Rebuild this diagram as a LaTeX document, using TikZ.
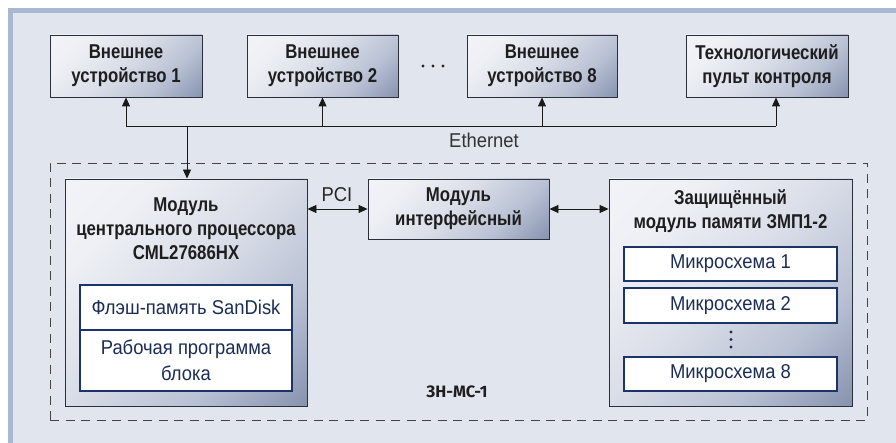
\documentclass[tikz,border=0pt]{standalone}
\usepackage{fontspec}
\setmainfont[FakeStretch=0.92]{Liberation Sans}
\newfontfamily\condbold[FakeStretch=0.84]{Liberation Sans}
\newfontfamily\labelfont{Fira Sans}
\usetikzlibrary{arrows.meta}
\definecolor{bgborder}{HTML}{A9B7D0}
\definecolor{bgfill}{HTML}{E1E5EE}
\definecolor{boxline}{HTML}{2B2F3A}
\definecolor{shadetop}{HTML}{F6F7FA}
\definecolor{shadehi}{HTML}{EEF0F5}
\definecolor{shadelite}{HTML}{DADEE8}
\definecolor{shademid}{HTML}{B8C0D3}
\definecolor{shadelow}{HTML}{8591AE}
\definecolor{shadebot}{HTML}{55648B}
\definecolor{navy}{HTML}{1B3366}
\definecolor{navytext}{HTML}{1B2D55}
\definecolor{darktext}{HTML}{1E1E1E}
\definecolor{dashcol}{HTML}{444444}
\pgfdeclareverticalshading{diagshade}{100bp}{color(0bp)=(shadebot); color(14bp)=(shadelow); color(32bp)=(shademid); color(52bp)=(shadelite); color(72bp)=(shadehi); color(100bp)=(shadetop)}
\tikzset{
  modbox/.style={draw=boxline, line width=0.9pt, shade, shading=diagshade, shading angle=45, inner sep=0pt},
  titletext/.style={align=center, text=darktext, font=\condbold\bfseries\fontsize{20}{24}\selectfont, inner sep=0pt},
  whitebox/.style={draw=navy, line width=1.2pt, fill=white, align=center, text=navytext, font=\fontsize{20}{26}\selectfont, inner sep=0pt},
  conn/.style={draw=black!90, line width=0.9pt},
  tip/.style={-{Triangle[length=9pt,width=8pt]}},
  dtip/.style={{Triangle[length=9pt,width=8pt]}-{Triangle[length=9pt,width=8pt]}},
  dashbox/.style={draw=dashcol, line width=0.9pt, dash pattern=on 9pt off 6.5pt, inner sep=0pt},
  dotmark/.style={fill=black!85, draw=none}
}
\begin{document}
\begin{tikzpicture}[x=1pt,y=-1pt]
\useasboundingbox (0,0) rectangle (896,443);
\fill[white] (0,0) rectangle (896,443);
\fill[bgborder] (8,8) rectangle (896,443);
\fill[bgfill] (13,13) rectangle (896,443);

% top row
\node[modbox, minimum width=152pt, minimum height=62pt] (d1) at (126,66) {};
\node[titletext] (d1t) at (d1.center) {Внешнее\\устройство 1};
\node[modbox, minimum width=151pt, minimum height=62pt] (d2) at (322.5,66) {};
\node[titletext] (d2t) at (d2.center) {Внешнее\\устройство 2};
\node[modbox, minimum width=150pt, minimum height=62pt] (d8) at (542,66) {};
\node[titletext] (d8t) at (d8.center) {Внешнее\\устройство 8};
\node[modbox, minimum width=162pt, minimum height=62pt] (tech) at (767,66) {};
\node[titletext] (techt) at (tech.center) {Технологический\\пульт контроля};
\fill[dotmark] (423,66) circle (1.7);
\fill[dotmark] (433,66) circle (1.7);
\fill[dotmark] (443,66) circle (1.7);

% system container
\node[dashbox, minimum width=817pt, minimum height=257pt] (sys) at (458.5,291.5) {};
\node[inner sep=0pt, text=darktext, font=\labelfont\bfseries\fontsize{16.5}{18}\selectfont] (syslabel) at (457,392) {ЗН-МС-1};

% CPU module
\node[modbox, minimum width=242pt, minimum height=227pt] (cpu) at (186,292.5) {};
\node[titletext] (cput) at (186,229) {Модуль\\центрального процессора\\CML27686HX};
\node[whitebox, minimum width=212pt, minimum height=45pt] (flash) at (186,307.5) {Флэш-память SanDisk};
\node[whitebox, minimum width=212pt, minimum height=61pt] (prog) at (186,360.5) {Рабочая программа\\блока};

% interface module
\node[modbox, minimum width=181pt, minimum height=60pt] (iface) at (458.5,209) {};
\node[titletext] (ifacet) at (iface.center) {Модуль\\интерфейсный};

% memory module
\node[modbox, minimum width=243pt, minimum height=227pt] (mem) at (730.5,292.5) {};
\node[titletext] (memt) at (730.5,211) {Защищённый\\модуль памяти ЗМП1-2};
\node[whitebox, minimum width=213pt, minimum height=34pt] (chip1) at (730.5,264) {Микросхема 1};
\node[whitebox, minimum width=213pt, minimum height=35pt] (chip2) at (730.5,305.5) {Микросхема 2};
\node[whitebox, minimum width=213pt, minimum height=34pt] (chip8) at (730.5,374) {Микросхема 8};
\fill[dotmark, fill=navytext] (731,332) circle (1.7);
\fill[dotmark, fill=navytext] (731,339.5) circle (1.7);
\fill[dotmark, fill=navytext] (731,347) circle (1.7);

% Ethernet bus
\coordinate (busL) at (126,126);
\coordinate (busR) at (776,126);
\coordinate (cpuin) at (187,126);
\draw[conn] (d1.south |- busL) -- (busR);
\draw[conn, tip] (d1.south |- busL) -- (d1.south);
\draw[conn, tip] (d2.south |- busL) -- (d2.south);
\draw[conn, tip] (d8.south |- busL) -- (d8.south);
\draw[conn, tip] (busR) -- (busR |- tech.south);
\draw[conn, tip] (cpuin) -- (cpuin |- cpu.north);
\node[inner sep=0pt, text=black!80, font=\fontsize{20}{22}\selectfont] (eth) at (484,140) {Ethernet};

% internal links
\draw[conn, dtip] (cpu.east |- iface.west) -- (iface.west);
\node[inner sep=0pt, text=black!85, font=\fontsize{20}{22}\selectfont] (pci) at (337,195) {PCI};
\draw[conn, dtip] (iface.east) -- (mem.west |- iface.east);
\end{tikzpicture}
\end{document}
